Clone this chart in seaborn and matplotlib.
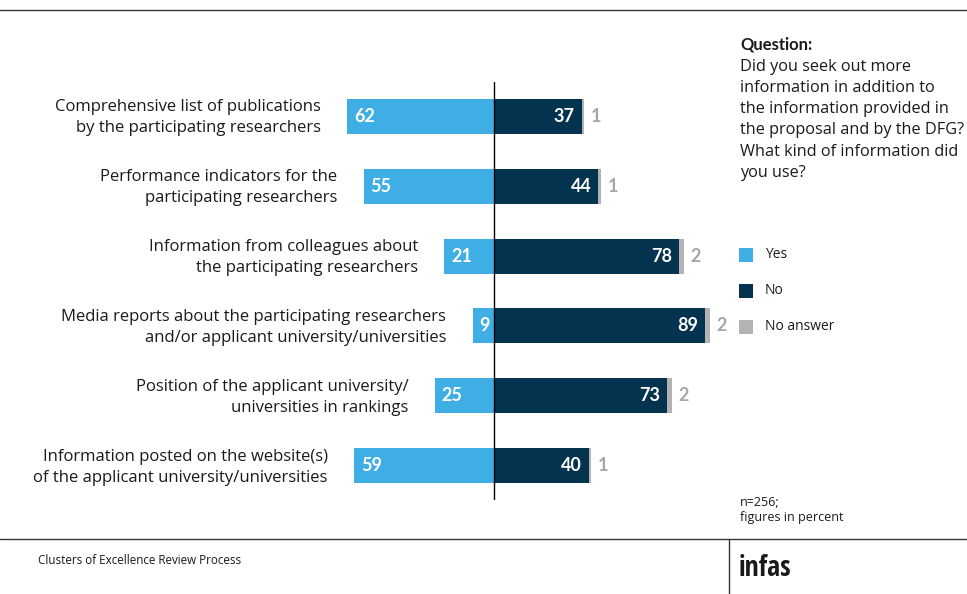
import matplotlib
matplotlib.use("Agg")
import matplotlib.pyplot as plt
import seaborn as sns
import pandas as pd
import numpy as np
from matplotlib.lines import Line2D
from matplotlib.patches import Rectangle

categories = [
    "Comprehensive list of publications\nby the participating researchers",
    "Performance indicators for the\nparticipating researchers",
    "Information from colleagues about\nthe participating researchers",
    "Media reports about the participating researchers\nand/or applicant university/universities",
    "Position of the applicant university/\nuniversities in rankings",
    "Information posted on the website(s)\nof the applicant university/universities",
]
yes = [62, 55, 21, 9, 25, 59]
no = [37, 44, 78, 89, 73, 40]
no_answer = [1, 1, 2, 2, 2, 1]

legend_labels = ["Yes", "No", "No answer"]
question_title = "Question:"
question_text = ("Did you seek out more\ninformation in addition to\nthe information provided in\n"
                 "the proposal and by the DFG?\nWhat kind of information did\nyou use?")
note_text = "n=256;\nfigures in percent"
footer_left = "Clusters of Excellence Review Process"
footer_right = "infas"

C_YES = "#3FAEE5"
C_NO = "#04334F"
C_NA = "#B3B3B3"
C_TEXT = "#1a1a1a"

sns.set_theme(style="white")
plt.rcParams["font.family"] = ["Open Sans", "DejaVu Sans"]
BOLD_FAM = ["Lato", "DejaVu Sans"]

df = pd.DataFrame({
    "cat": categories,
    "yes_neg": [-v for v in yes],
    "no": no,
    "total": [a + b for a, b in zip(no, no_answer)],
})

W, H = 967, 594
fig = plt.figure(figsize=(W / 100, H / 100), dpi=100)
ax_top, ax_bot = 82, 500
ax = fig.add_axes([0, (H - ax_bot) / H, 1, (ax_bot - ax_top) / H])

ppu = 2.37
center = 494
ax.set_xlim(-center / ppu, (W - center) / ppu)

sns.barplot(data=df, y="cat", x="total", color=C_NA, width=0.5, ax=ax,
            orient="h", saturation=1, linewidth=0)
sns.barplot(data=df, y="cat", x="no", color=C_NO, width=0.5, ax=ax,
            orient="h", saturation=1, linewidth=0)
sns.barplot(data=df, y="cat", x="yes_neg", color=C_YES, width=0.5, ax=ax,
            orient="h", saturation=1, linewidth=0)

ax.set_ylim(5.486, -0.486)
ax.axvline(0, color="black", lw=1.0)
ax.set_axis_off()

for i in range(len(categories)):
    ax.annotate(categories[i], xy=(-yes[i], i), xytext=(-19, -1), textcoords="offset points",
                ha="right", va="center", fontsize=12, color=C_TEXT, linespacing=1.45)
    ax.annotate(str(yes[i]), xy=(-yes[i], i), xytext=(5, 0), textcoords="offset points",
                ha="left", va="center", fontsize=13, color="white", fontweight="bold",
                family=BOLD_FAM)
    ax.annotate(str(no[i]), xy=(no[i], i), xytext=(-5, 0), textcoords="offset points",
                ha="right", va="center", fontsize=13, color="white", fontweight="bold",
                family=BOLD_FAM)
    ax.annotate(str(no_answer[i]), xy=(no[i] + no_answer[i], i), xytext=(5, 0),
                textcoords="offset points", ha="left", va="center", fontsize=13,
                color="#A6A6A6", fontweight="bold", family=BOLD_FAM)

# Question text
fig.text(740 / W, 1 - 37 / H, question_title, ha="left", va="top", fontsize=12,
         fontweight="bold", color=C_TEXT, family=BOLD_FAM)
fig.text(740 / W, 1 - 59 / H, question_text, ha="left", va="top", fontsize=11.7,
         color=C_TEXT, linespacing=1.43)

# Legend
for k, (lab, col) in enumerate(zip(legend_labels, [C_YES, C_NO, C_NA])):
    yc = 255 + 36 * k
    fig.patches.append(Rectangle((739 / W, 1 - (yc + 7) / H), 14 / W, 14 / H,
                                 transform=fig.transFigure, color=col, lw=0))
    fig.text(765 / W, 1 - yc / H, lab, ha="left", va="center", fontsize=10, color=C_TEXT)

fig.text(740 / W, 1 - 496 / H, note_text, ha="left", va="top", fontsize=9,
         color=C_TEXT, linespacing=1.25)

# Frame lines
fig.add_artist(Line2D([0, 1], [1 - 10 / H, 1 - 10 / H], transform=fig.transFigure,
                      color="#333333", lw=1.0))
fig.add_artist(Line2D([0, 1], [1 - 539 / H, 1 - 539 / H], transform=fig.transFigure,
                      color="#333333", lw=1.0))
fig.add_artist(Line2D([729 / W, 729 / W], [0, 1 - 539 / H], transform=fig.transFigure,
                      color="#333333", lw=1.0))

fig.text(38 / W, 1 - 561 / H, footer_left, ha="left", va="center", fontsize=8.4, color=C_TEXT)
fig.text(739 / W, 1 - 569 / H, footer_right, ha="left", va="center", fontsize=20,
         fontweight="bold", fontstretch="extra-condensed", color=C_TEXT,
         family=["Open Sans Condensed", "Open Sans", "DejaVu Sans"])

fig.savefig("out.png", dpi=100, facecolor="white")
